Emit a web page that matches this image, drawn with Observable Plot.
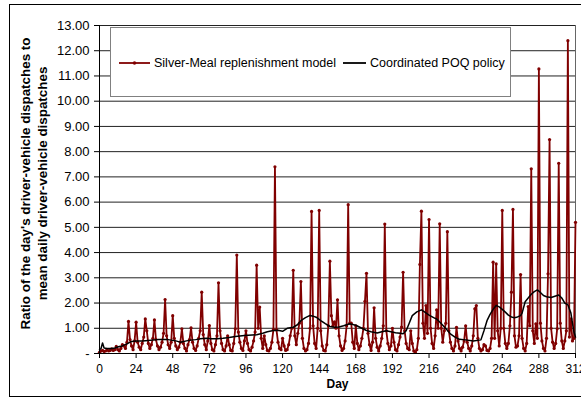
<!DOCTYPE html>
<html>
<head>
<meta charset="utf-8">
<script src="https://cdn.jsdelivr.net/npm/d3@7"></script>
<script src="https://cdn.jsdelivr.net/npm/@observablehq/plot@0.6"></script>
<style>
  html, body { margin: 0; padding: 0; background: #fff; }
  #wrap { position: relative; width: 581px; height: 398px; overflow: hidden; font-family: "Liberation Sans", Arial, sans-serif; }
  #outer { position: absolute; left: 9px; top: 4px; width: 700px; height: 391px; border: 1px solid #000; pointer-events: none; }
  #legend { position: absolute; left: 110px; top: 27px; width: 399px; height: 68px; border: 1px solid #808080; background: #fff; }
</style>
</head>
<body>
<div id="wrap">
  <div id="chart"></div>
  <div id="outer"></div>
  <div id="legend"></div>
</div>
<script>
// Series names
const seriesNames = ["Silver-Meal replenishment model", "Coordinated POQ policy"];

// Silver-Meal replenishment model: ratio per day, day 0 .. 312
const silverMeal = [
  0.05, 0.10, 0.12, 0.08, 0.10, 0.15, 0.10, 0.12, 0.18, 0.12,
  0.15, 0.28, 0.15, 0.10, 0.20, 0.35, 0.30, 0.20, 0.45, 1.27,
  0.55, 0.30, 0.15, 0.50, 1.24, 0.45, 0.25, 0.15, 0.40, 0.65,
  1.37, 0.90, 0.40, 0.20, 0.35, 0.60, 1.33, 0.55, 0.30, 0.15,
  0.25, 0.45, 0.80, 2.14, 0.70, 0.35, 0.20, 0.45, 1.50, 0.60,
  0.30, 0.15, 0.25, 0.45, 0.98, 0.40, 0.20, 0.10, 0.35, 0.55,
  1.02, 0.45, 0.20, 0.12, 0.30, 0.60, 0.90, 2.43, 0.75, 0.35,
  0.15, 0.50, 1.11, 0.40, 0.15, 0.10, 0.35, 0.70, 2.80, 0.90,
  0.40, 0.15, 0.10, 0.30, 0.70, 0.35, 0.12, 0.10, 0.40, 0.98,
  3.90, 0.85, 0.45, 0.20, 0.12, 0.50, 0.90, 0.40, 0.15, 0.10,
  0.25, 0.50, 0.85, 3.50, 1.00, 1.84, 0.60, 0.20, 0.70, 0.35,
  0.12, 0.10, 0.20, 0.45, 0.95, 7.40, 0.94, 0.45, 0.20, 0.15,
  0.60, 0.30, 0.12, 0.15, 0.35, 0.70, 1.00, 3.30, 0.70, 0.35,
  0.80, 1.20, 2.85, 0.60, 0.20, 0.10, 0.15, 0.40, 1.00, 5.63,
  1.10, 0.40, 0.20, 1.00, 5.67, 0.90, 0.30, 0.12, 0.10, 0.35,
  1.10, 3.66, 1.50, 1.10, 1.25, 1.00, 2.13, 0.70, 0.30, 0.12,
  0.20, 0.50, 1.10, 5.90, 1.20, 1.20, 0.45, 0.20, 1.10, 0.40,
  0.15, 0.30, 0.60, 1.00, 2.07, 3.18, 0.80, 0.35, 0.12, 0.45,
  1.81, 0.60, 0.25, 0.10, 0.30, 0.60, 1.10, 5.13, 0.90, 0.40,
  0.15, 0.30, 1.00, 0.45, 0.15, 0.10, 0.35, 0.65, 1.05, 3.22,
  0.90, 0.40, 0.20, 0.15, 0.90, 0.40, 0.10, 0.05, 0.15, 0.60,
  3.53, 5.64, 1.20, 0.60, 1.90, 0.80, 5.31, 1.00, 0.40, 0.20,
  0.70, 1.73, 1.00, 5.14, 1.00, 0.45, 0.90, 1.20, 4.83, 0.90,
  0.45, 0.20, 0.10, 0.30, 1.04, 0.50, 0.20, 0.10, 0.25, 0.50,
  1.10, 0.45, 0.20, 0.10, 0.30, 0.70, 1.77, 1.90, 0.60, 0.20,
  0.10, 0.15, 0.35, 0.30, 0.12, 0.10, 0.20, 0.60, 3.62, 0.60,
  3.55, 0.90, 0.30, 1.00, 5.67, 1.00, 0.40, 0.20, 0.40, 1.10,
  2.43, 5.71, 0.70, 0.25, 0.30, 0.70, 3.13, 0.60, 0.20, 0.10,
  0.40, 1.86, 1.10, 7.32, 0.90, 0.40, 1.18, 0.60, 11.28, 1.20,
  0.50, 0.20, 0.10, 0.60, 3.16, 8.48, 1.00, 0.45, 0.20, 0.40,
  0.98, 7.54, 1.20, 0.50, 0.20, 0.50, 0.90, 12.40, 0.65, 1.37,
  0.50, 0.60, 5.20
];

// Coordinated POQ policy: read at these days
const poqDays = [0,1,2,3,5,8,10,13,15,18,21,24,28,32,38,45,50,53,57,60,63,66,70,73,77,81,85,89,95,100,103,107,110,114,117,120,123,127,130,132,135,138,140,142,145,148,151,154,157,160,164,168,172,175,178,182,185,188,191,194,197,199,201,203,205,208,211,213,216,219,221,223,225,228,230,233,236,240,245,250,252,254,256,258,260,262,264,266,268,270,272,274,276,277,279,281,283,285,287,289,291,293,296,299,301,303,305,307,309,310,311,312];
const poqValues = [0.15,0.20,0.42,0.22,0.20,0.20,0.22,0.28,0.30,0.38,0.48,0.50,0.50,0.52,0.55,0.55,0.50,0.45,0.50,0.53,0.55,0.58,0.60,0.58,0.58,0.60,0.63,0.67,0.71,0.73,0.74,0.80,0.86,0.91,0.92,0.88,1.00,1.04,1.15,1.30,1.42,1.51,1.48,1.44,1.30,1.18,1.07,1.04,1.05,1.10,1.18,1.12,1.00,0.91,0.86,0.81,0.86,0.90,0.86,0.82,0.80,0.78,0.90,1.20,1.50,1.65,1.73,1.65,1.52,1.42,1.37,1.25,1.12,0.92,0.78,0.65,0.56,0.54,0.50,0.54,0.90,1.30,1.55,1.75,1.90,1.85,1.75,1.64,1.52,1.45,1.42,1.45,1.50,1.60,2.05,2.20,2.35,2.45,2.52,2.42,2.30,2.25,2.22,2.28,2.32,2.20,2.00,1.93,1.60,1.20,0.85,0.65];

// Axis ticks
const xTicks = [0, 24, 48, 72, 96, 120, 144, 168, 192, 216, 240, 264, 288, 312];
const yTicks = [0, 1, 2, 3, 4, 5, 6, 7, 8, 9, 10, 11, 12, 13];
const yTitle = ["Ratio of the day's driver-vehicle dispatches to", "mean daily driver-vehicle dispatches"];
const xTitle = "Day";

const RED = "#800000";
const smData = silverMeal.map((v, i) => ({day: i, value: v}));
const poqData = poqDays.map((d, i) => ({day: d, value: poqValues[i]}));

const chart = Plot.plot({
  width: 581,
  height: 398,
  marginLeft: 99,
  marginRight: 6,
  marginTop: 25,
  marginBottom: 45,
  style: {fontFamily: "'Liberation Sans', Arial, sans-serif", fontSize: "12px", color: "#000", background: "transparent"},
  x: {domain: [0, 312]},
  y: {domain: [0, 13]},
  marks: [
    Plot.ruleY(yTicks.filter(d => d > 0), {stroke: "#222", strokeWidth: 1}),
    Plot.ruleX([312], {stroke: "#666", strokeWidth: 1}),
    Plot.line(smData, {x: "day", y: "value", stroke: RED, strokeWidth: 1.8}),
    Plot.dot(smData, {x: "day", y: "value", r: 1.6, fill: RED, stroke: null}),
    Plot.line(poqData, {x: "day", y: "value", stroke: "#000", strokeWidth: 1.5}),
    Plot.ruleX([0], {stroke: "#000", strokeWidth: 1}),
    Plot.ruleY([0], {stroke: "#000", strokeWidth: 1}),
    Plot.axisY({ticks: yTicks, tickSize: 5, tickPadding: 5, fontSize: 13, label: null,
      tickFormat: d => d === 0 ? "-" : d3.format(".2f")(d)}),
    Plot.axisX({ticks: xTicks, tickSize: 5, tickPadding: 6, fontSize: 12, label: null, tickFormat: d => String(d)}),
    Plot.text([yTitle[0]], {frameAnchor: "left", textAnchor: "middle", lineAnchor: "middle", dx: -74, dy: -6, rotate: -90, fontSize: 13.4, fontWeight: "bold", text: d => d}),
    Plot.text([yTitle[1]], {frameAnchor: "left", textAnchor: "middle", lineAnchor: "middle", dx: -57, dy: -6, rotate: -90, fontSize: 13.4, fontWeight: "bold", text: d => d}),
    Plot.text([xTitle], {frameAnchor: "bottom", dy: 34, fontSize: 12, fontWeight: "bold", text: d => d})
  ]
});
document.getElementById("chart").appendChild(chart);

// Legend (inside plot, top-left)
const lg = d3.select("#legend").append("svg").attr("width", 399).attr("height", 68)
  .style("font-family", "'Liberation Sans', Arial, sans-serif");
lg.append("line").attr("x1", 8).attr("x2", 39).attr("y1", 35).attr("y2", 35).attr("stroke", RED).attr("stroke-width", 1.8);
lg.append("circle").attr("cx", 23.5).attr("cy", 35).attr("r", 1.8).attr("fill", RED);
lg.append("text").attr("x", 43).attr("y", 35).attr("dy", "0.35em").attr("font-size", 12.5).text(seriesNames[0]);
lg.append("line").attr("x1", 232).attr("x2", 255).attr("y1", 35).attr("y2", 35).attr("stroke", "#000").attr("stroke-width", 1.8);
lg.append("text").attr("x", 259).attr("y", 35).attr("dy", "0.35em").attr("font-size", 12.5).text(seriesNames[1]);
</script>
</body>
</html>
